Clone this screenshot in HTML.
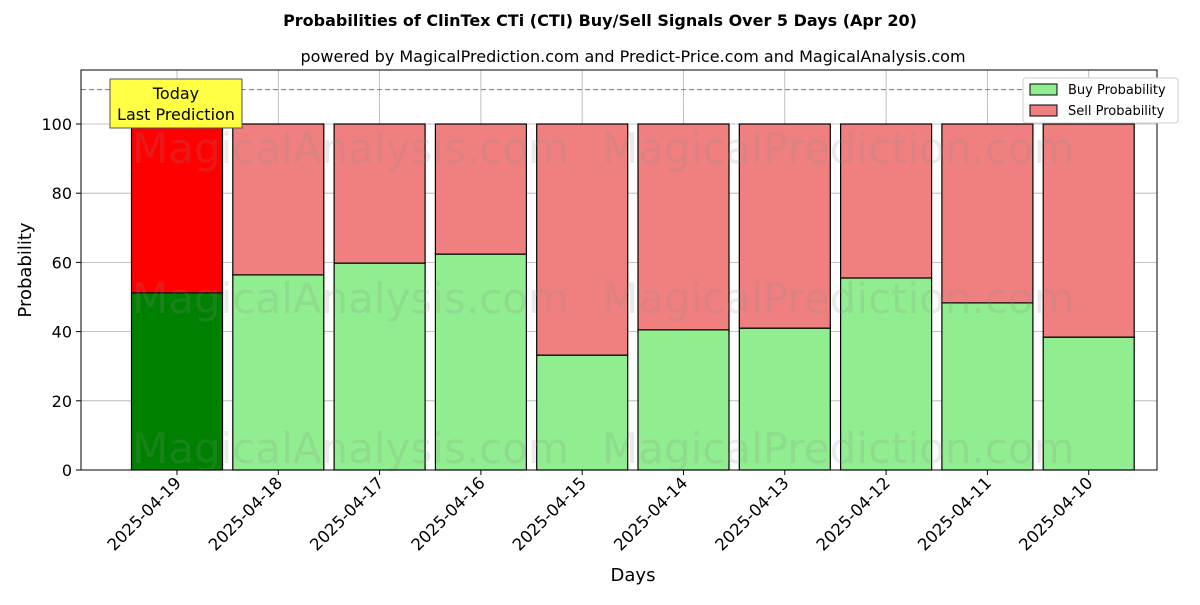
<!DOCTYPE html>
<html><head><meta charset="utf-8"><style>
body{margin:0;background:#fff;font-family:"Liberation Sans","DejaVu Sans",sans-serif}
</style></head><body>
<svg id="chart" width="1200" height="600" xmlns="http://www.w3.org/2000/svg" font-family="DejaVu Sans, Liberation Sans, sans-serif">
<rect width="1200" height="600" fill="#fff"/>
<text x="600" y="26" text-anchor="middle" font-size="16" font-weight="bold">Probabilities of ClinTex CTi (CTI) Buy/Sell Signals Over 5 Days (Apr 20)</text>
<text x="633" y="62" text-anchor="middle" font-size="16">powered by MagicalPrediction.com and Predict-Price.com and MagicalAnalysis.com</text>
<g id="grid"></g>
<g id="bars"></g>
<g fill="#888" fill-opacity="0.18" font-size="42">
<text x="132" y="163">MagicalAnalysis.com</text><text x="602" y="163">MagicalPrediction.com</text>
<text x="132" y="313">MagicalAnalysis.com</text><text x="602" y="313">MagicalPrediction.com</text>
<text x="132" y="463">MagicalAnalysis.com</text><text x="602" y="463">MagicalPrediction.com</text>
</g>
<line x1="81" x2="1157" y1="89.6" y2="89.6" stroke="#777" stroke-dasharray="5,3"/>
<rect x="81" y="70" width="1076" height="400" fill="none" stroke="#000"/>
<g id="axes"></g>
<g>
<rect x="110" y="79" width="132" height="49" fill="#ffff44" stroke="#555"/>
<text x="176" y="99" text-anchor="middle" font-size="16">Today</text>
<text x="176" y="120" text-anchor="middle" font-size="16">Last Prediction</text>
</g>
<g>
<rect x="1023" y="78" width="155" height="45" fill="#fff" stroke="#ccc" rx="3"/>
<rect x="1030" y="84" width="27" height="11" fill="#90ee90" stroke="#000"/>
<text x="1068" y="94" font-size="13">Buy Probability</text>
<rect x="1030" y="105" width="27" height="11" fill="#f08080" stroke="#000"/>
<text x="1068" y="115" font-size="13">Sell Probability</text>
</g>
<text x="633" y="581" text-anchor="middle" font-size="18">Days</text>
<text transform="translate(31,270) rotate(-90)" text-anchor="middle" font-size="18">Probability</text>
</svg>
<script>
const categories=["2025-04-19","2025-04-18","2025-04-17","2025-04-16","2025-04-15","2025-04-14","2025-04-13","2025-04-12","2025-04-11","2025-04-10"];
const buyValues=[51.2,56.4,59.8,62.4,33.2,40.5,41.0,55.5,48.3,38.4];
const yTicks=[0,20,40,60,80,100];
const NS="http://www.w3.org/2000/svg";
const y=v=>470-v*3.46;
const x=i=>177+i*101.3;
function mk(tag,attrs,parent){const e=document.createElementNS(NS,tag);for(const k in attrs)e.setAttribute(k,attrs[k]);parent.appendChild(e);return e;}
const grid=document.getElementById('grid'),bars=document.getElementById('bars'),axes=document.getElementById('axes');
yTicks.forEach(t=>{
 const l=mk('line',{x1:81,x2:1157,y1:y(t),y2:y(t),stroke:'#b0b0b0','stroke-width':0.8},grid);
 
 
 mk('line',{x1:76,x2:81,y1:y(t),y2:y(t),stroke:'#000'},axes);
 const tx=mk('text',{x:72,y:y(t)+6,'text-anchor':'end','font-size':16},axes);
 tx.textContent=t;
 
 
});
categories.forEach((c,i)=>{
 const cx=x(i);
 const g=mk('line',{x1:cx,x2:cx,y1:70,y2:470,stroke:'#b0b0b0','stroke-width':0.8},grid);
 
 
 const b=buyValues[i];
 const buy=mk('rect',{x:cx-45.5,y:y(b),width:91,height:y(0)-y(b),fill:i==0?'#008000':'#90ee90',stroke:'#000','stroke-width':1.2},bars);
 
 
 const sell=mk('rect',{x:cx-45.5,y:y(100),width:91,height:y(b)-y(100),fill:i==0?'#ff0000':'#f08080',stroke:'#000','stroke-width':1.2},bars);
 
 
 mk('line',{x1:cx,x2:cx,y1:470,y2:475,stroke:'#000'},axes);
 const tx=mk('text',{transform:`translate(${cx+5},${484}) rotate(-45)`,'text-anchor':'end','font-size':16.5},axes);
 tx.textContent=c;
 
 
});
</script>
</body></html>
